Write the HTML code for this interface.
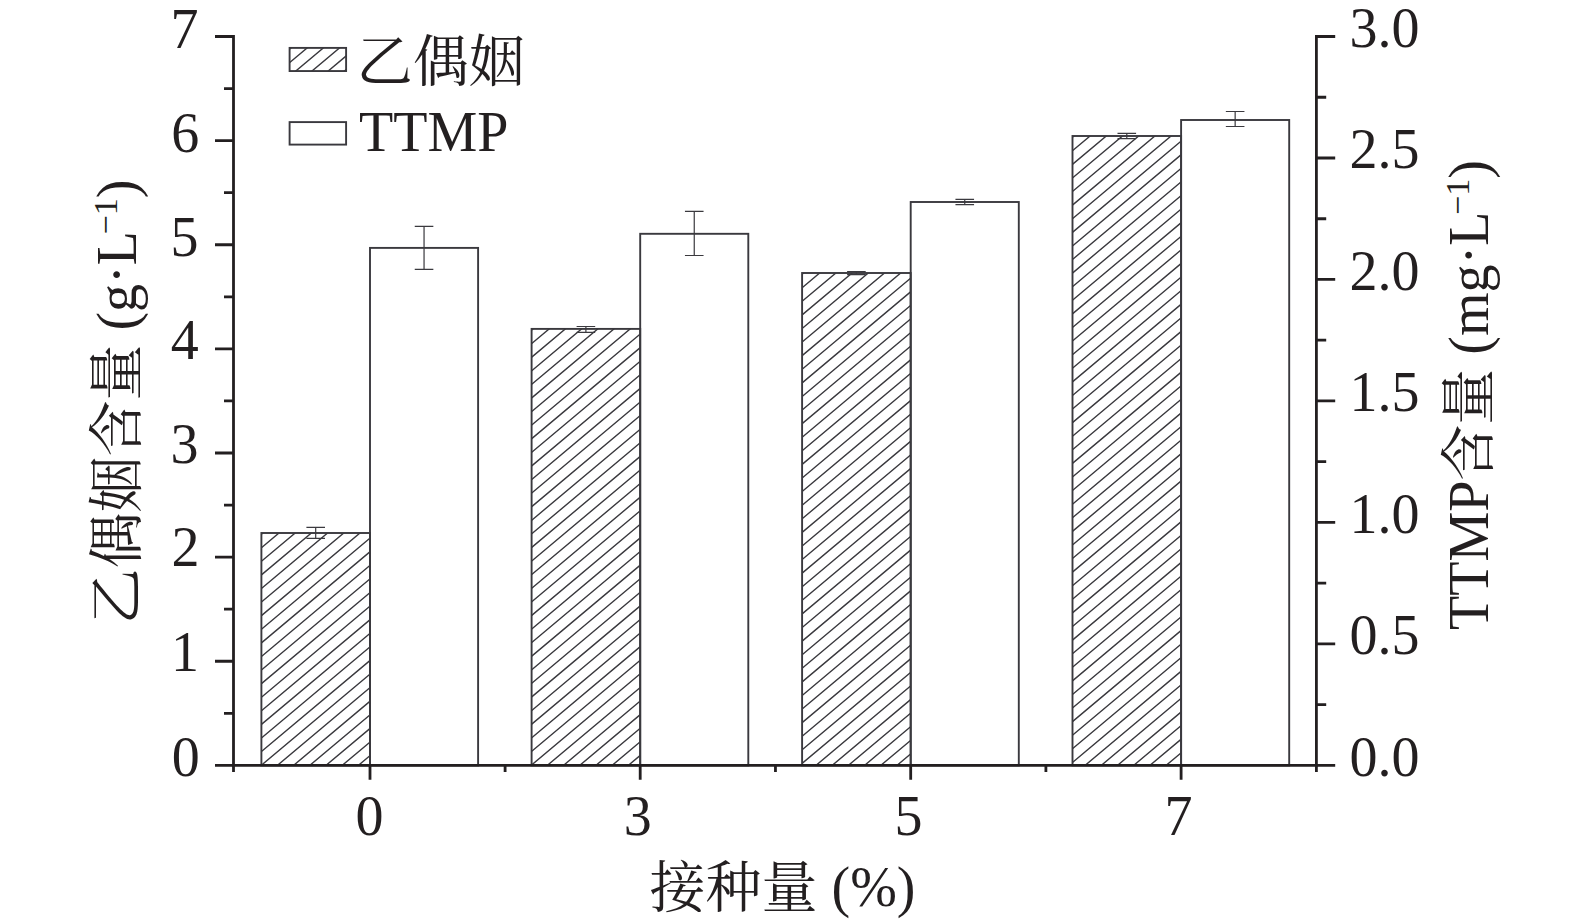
<!DOCTYPE html><html><head><meta charset="utf-8"><style>html,body{margin:0;padding:0;background:#fff;}svg{display:block;}text{font-family:"Liberation Serif","Noto Serif CJK SC",serif;fill:#231f20;}</style></head><body>
<svg width="1575" height="924" viewBox="0 0 1575 924">
<rect width="1575" height="924" fill="#fff"/>
<defs><clipPath id="c0"><rect x="261.40" y="533.00" width="108.60" height="232.40"/></clipPath><clipPath id="c1"><rect x="531.60" y="328.90" width="108.60" height="436.50"/></clipPath><clipPath id="c2"><rect x="802.10" y="273.00" width="108.60" height="492.40"/></clipPath><clipPath id="c3"><rect x="1072.50" y="136.00" width="108.60" height="629.40"/></clipPath><clipPath id="cl"><rect x="289.60" y="47.90" width="56.50" height="23.15"/></clipPath></defs>
<path clip-path="url(#c0)" d="M258.40,509.48L373.00,413.33M258.40,523.08L373.00,426.93M258.40,536.67L373.00,440.52M258.40,550.26L373.00,454.11M258.40,563.85L373.00,467.70M258.40,577.44L373.00,481.29M258.40,591.03L373.00,494.88M258.40,604.63L373.00,508.48M258.40,618.22L373.00,522.07M258.40,631.81L373.00,535.66M258.40,645.40L373.00,549.25M258.40,658.99L373.00,562.84M258.40,672.59L373.00,576.44M258.40,686.18L373.00,590.03M258.40,699.77L373.00,603.62M258.40,713.36L373.00,617.21M258.40,726.95L373.00,630.80M258.40,740.54L373.00,644.39M258.40,754.14L373.00,657.99M258.40,767.73L373.00,671.58M258.40,781.32L373.00,685.17M258.40,794.91L373.00,698.76M258.40,808.50L373.00,712.35M258.40,822.09L373.00,725.95M258.40,835.69L373.00,739.54M258.40,849.28L373.00,753.13M258.40,862.87L373.00,766.72" stroke="#3a393e" stroke-width="1.4" fill="none"/>
<rect x="261.40" y="533.00" width="108.60" height="232.40" fill="none" stroke="#3a393e" stroke-width="1.9"/>
<rect x="370.00" y="247.90" width="108.10" height="517.50" fill="none" stroke="#3a393e" stroke-width="1.9"/>
<path clip-path="url(#c1)" d="M528.60,305.38L643.20,209.23M528.60,318.98L643.20,222.83M528.60,332.57L643.20,236.42M528.60,346.16L643.20,250.01M528.60,359.75L643.20,263.60M528.60,373.34L643.20,277.19M528.60,386.93L643.20,290.78M528.60,400.53L643.20,304.38M528.60,414.12L643.20,317.97M528.60,427.71L643.20,331.56M528.60,441.30L643.20,345.15M528.60,454.89L643.20,358.74M528.60,468.49L643.20,372.34M528.60,482.08L643.20,385.93M528.60,495.67L643.20,399.52M528.60,509.26L643.20,413.11M528.60,522.85L643.20,426.70M528.60,536.44L643.20,440.29M528.60,550.04L643.20,453.89M528.60,563.63L643.20,467.48M528.60,577.22L643.20,481.07M528.60,590.81L643.20,494.66M528.60,604.40L643.20,508.25M528.60,617.99L643.20,521.85M528.60,631.59L643.20,535.44M528.60,645.18L643.20,549.03M528.60,658.77L643.20,562.62M528.60,672.36L643.20,576.21M528.60,685.95L643.20,589.80M528.60,699.55L643.20,603.40M528.60,713.14L643.20,616.99M528.60,726.73L643.20,630.58M528.60,740.32L643.20,644.17M528.60,753.91L643.20,657.76M528.60,767.50L643.20,671.36M528.60,781.10L643.20,684.95M528.60,794.69L643.20,698.54M528.60,808.28L643.20,712.13M528.60,821.87L643.20,725.72M528.60,835.46L643.20,739.31M528.60,849.06L643.20,752.91M528.60,862.65L643.20,766.50" stroke="#3a393e" stroke-width="1.4" fill="none"/>
<rect x="531.60" y="328.90" width="108.60" height="436.50" fill="none" stroke="#3a393e" stroke-width="1.9"/>
<rect x="640.20" y="233.80" width="108.10" height="531.60" fill="none" stroke="#3a393e" stroke-width="1.9"/>
<path clip-path="url(#c2)" d="M799.10,249.48L913.70,153.33M799.10,263.08L913.70,166.93M799.10,276.67L913.70,180.52M799.10,290.26L913.70,194.11M799.10,303.85L913.70,207.70M799.10,317.44L913.70,221.29M799.10,331.03L913.70,234.88M799.10,344.63L913.70,248.48M799.10,358.22L913.70,262.07M799.10,371.81L913.70,275.66M799.10,385.40L913.70,289.25M799.10,398.99L913.70,302.84M799.10,412.59L913.70,316.44M799.10,426.18L913.70,330.03M799.10,439.77L913.70,343.62M799.10,453.36L913.70,357.21M799.10,466.95L913.70,370.80M799.10,480.54L913.70,384.39M799.10,494.14L913.70,397.99M799.10,507.73L913.70,411.58M799.10,521.32L913.70,425.17M799.10,534.91L913.70,438.76M799.10,548.50L913.70,452.35M799.10,562.09L913.70,465.95M799.10,575.69L913.70,479.54M799.10,589.28L913.70,493.13M799.10,602.87L913.70,506.72M799.10,616.46L913.70,520.31M799.10,630.05L913.70,533.90M799.10,643.65L913.70,547.50M799.10,657.24L913.70,561.09M799.10,670.83L913.70,574.68M799.10,684.42L913.70,588.27M799.10,698.01L913.70,601.86M799.10,711.60L913.70,615.46M799.10,725.20L913.70,629.05M799.10,738.79L913.70,642.64M799.10,752.38L913.70,656.23M799.10,765.97L913.70,669.82M799.10,779.56L913.70,683.41M799.10,793.16L913.70,697.01M799.10,806.75L913.70,710.60M799.10,820.34L913.70,724.19M799.10,833.93L913.70,737.78M799.10,847.52L913.70,751.37M799.10,861.11L913.70,764.96" stroke="#3a393e" stroke-width="1.4" fill="none"/>
<rect x="802.10" y="273.00" width="108.60" height="492.40" fill="none" stroke="#3a393e" stroke-width="1.9"/>
<rect x="910.70" y="202.00" width="108.10" height="563.40" fill="none" stroke="#3a393e" stroke-width="1.9"/>
<path clip-path="url(#c3)" d="M1069.50,112.48L1184.10,16.33M1069.50,126.08L1184.10,29.93M1069.50,139.67L1184.10,43.52M1069.50,153.26L1184.10,57.11M1069.50,166.85L1184.10,70.70M1069.50,180.44L1184.10,84.29M1069.50,194.03L1184.10,97.88M1069.50,207.63L1184.10,111.48M1069.50,221.22L1184.10,125.07M1069.50,234.81L1184.10,138.66M1069.50,248.40L1184.10,152.25M1069.50,261.99L1184.10,165.84M1069.50,275.58L1184.10,179.44M1069.50,289.18L1184.10,193.03M1069.50,302.77L1184.10,206.62M1069.50,316.36L1184.10,220.21M1069.50,329.95L1184.10,233.80M1069.50,343.54L1184.10,247.39M1069.50,357.14L1184.10,260.99M1069.50,370.73L1184.10,274.58M1069.50,384.32L1184.10,288.17M1069.50,397.91L1184.10,301.76M1069.50,411.50L1184.10,315.35M1069.50,425.09L1184.10,328.95M1069.50,438.69L1184.10,342.54M1069.50,452.28L1184.10,356.13M1069.50,465.87L1184.10,369.72M1069.50,479.46L1184.10,383.31M1069.50,493.05L1184.10,396.90M1069.50,506.65L1184.10,410.50M1069.50,520.24L1184.10,424.09M1069.50,533.83L1184.10,437.68M1069.50,547.42L1184.10,451.27M1069.50,561.01L1184.10,464.86M1069.50,574.60L1184.10,478.46M1069.50,588.20L1184.10,492.05M1069.50,601.79L1184.10,505.64M1069.50,615.38L1184.10,519.23M1069.50,628.97L1184.10,532.82M1069.50,642.56L1184.10,546.41M1069.50,656.16L1184.10,560.01M1069.50,669.75L1184.10,573.60M1069.50,683.34L1184.10,587.19M1069.50,696.93L1184.10,600.78M1069.50,710.52L1184.10,614.37M1069.50,724.11L1184.10,627.96M1069.50,737.71L1184.10,641.56M1069.50,751.30L1184.10,655.15M1069.50,764.89L1184.10,668.74M1069.50,778.48L1184.10,682.33M1069.50,792.07L1184.10,695.92M1069.50,805.67L1184.10,709.52M1069.50,819.26L1184.10,723.11M1069.50,832.85L1184.10,736.70M1069.50,846.44L1184.10,750.29M1069.50,860.03L1184.10,763.88" stroke="#3a393e" stroke-width="1.4" fill="none"/>
<rect x="1072.50" y="136.00" width="108.60" height="629.40" fill="none" stroke="#3a393e" stroke-width="1.9"/>
<rect x="1181.10" y="120.00" width="108.10" height="645.40" fill="none" stroke="#3a393e" stroke-width="1.9"/>
<path d="M315.70,527.30V538.40M306.40,527.30H325.00M306.40,538.40H325.00" stroke="#3a393e" stroke-width="1.2" fill="none"/>
<path d="M424.05,226.40V269.40M414.75,226.40H433.35M414.75,269.40H433.35" stroke="#3a393e" stroke-width="1.2" fill="none"/>
<path d="M585.90,326.50V332.40M576.60,326.50H595.20M576.60,332.40H595.20" stroke="#3a393e" stroke-width="1.2" fill="none"/>
<path d="M694.25,211.30V255.50M684.95,211.30H703.55M684.95,255.50H703.55" stroke="#3a393e" stroke-width="1.2" fill="none"/>
<path d="M856.40,271.60V274.60M847.10,271.60H865.70M847.10,274.60H865.70" stroke="#3a393e" stroke-width="1.2" fill="none"/>
<path d="M964.75,199.40V204.60M955.45,199.40H974.05M955.45,204.60H974.05" stroke="#3a393e" stroke-width="1.2" fill="none"/>
<path d="M1126.80,133.40V138.60M1117.50,133.40H1136.10M1117.50,138.60H1136.10" stroke="#3a393e" stroke-width="1.2" fill="none"/>
<path d="M1235.15,111.50V126.50M1225.85,111.50H1244.45M1225.85,126.50H1244.45" stroke="#3a393e" stroke-width="1.2" fill="none"/>
<path clip-path="url(#cl)" d="M286.60,24.38L349.10,-28.05M286.60,37.98L349.10,-14.46M286.60,51.57L349.10,-0.87M286.60,65.16L349.10,12.72M286.60,78.75L349.10,26.31M286.60,92.34L349.10,39.90M286.60,105.93L349.10,53.50M286.60,119.53L349.10,67.09M286.60,133.12L349.10,80.68" stroke="#3a393e" stroke-width="1.4" fill="none"/>
<rect x="289.6" y="47.9" width="56.50" height="23.15" fill="none" stroke="#3a393e" stroke-width="1.9"/>
<rect x="289.6" y="122.1" width="56.50" height="22.5" fill="none" stroke="#3a393e" stroke-width="1.9"/>
<path d="M233.5,35.1V765.4M1316.4,35.1V765.4M232.1,765.4H1317.8000000000002" stroke="#231f20" stroke-width="2.8" fill="none"/>
<path d="M215.0,765.40H233.5M215.0,661.27H233.5M215.0,557.14H233.5M215.0,453.01H233.5M215.0,348.89H233.5M215.0,244.76H233.5M215.0,140.63H233.5M215.0,36.50H233.5M224.0,713.34H233.5M224.0,609.21H233.5M224.0,505.08H233.5M224.0,400.95H233.5M224.0,296.82H233.5M224.0,192.69H233.5M224.0,88.56H233.5M1316.4,765.40H1335.2M1316.4,643.92H1335.2M1316.4,522.43H1335.2M1316.4,400.95H1335.2M1316.4,279.47H1335.2M1316.4,157.98H1335.2M1316.4,36.50H1335.2M1316.4,704.66H1326.2M1316.4,583.17H1326.2M1316.4,461.69H1326.2M1316.4,340.21H1326.2M1316.4,218.73H1326.2M1316.4,97.24H1326.2M370.00,765.4V779.6999999999999M640.20,765.4V779.6999999999999M910.70,765.4V779.6999999999999M1181.10,765.4V779.6999999999999M233.50,765.4V771.9M505.10,765.4V771.9M775.45,765.4V771.9M1045.90,765.4V771.9M1316.40,765.4V771.9" stroke="#231f20" stroke-width="2.8" fill="none"/>
<text x="199.80" y="775.70" font-size="56" text-anchor="end">0</text>
<text x="198.90" y="670.87" font-size="56" text-anchor="end">1</text>
<text x="199.40" y="566.44" font-size="56" text-anchor="end">2</text>
<text x="198.60" y="462.91" font-size="56" text-anchor="end">3</text>
<text x="198.70" y="359.09" font-size="56" text-anchor="end">4</text>
<text x="198.60" y="255.76" font-size="56" text-anchor="end">5</text>
<text x="199.30" y="151.73" font-size="56" text-anchor="end">6</text>
<text x="198.50" y="48.00" font-size="56" text-anchor="end">7</text>
<text x="1349.6" y="775.90" font-size="56">0.0</text>
<text x="1349.6" y="654.42" font-size="56">0.5</text>
<text x="1349.6" y="532.93" font-size="56">1.0</text>
<text x="1349.6" y="411.45" font-size="56">1.5</text>
<text x="1349.6" y="289.97" font-size="56">2.0</text>
<text x="1349.6" y="168.48" font-size="56">2.5</text>
<text x="1349.6" y="47.00" font-size="56">3.0</text>
<text x="369.40" y="835.3" font-size="56" text-anchor="middle">0</text>
<text x="637.80" y="835.3" font-size="56" text-anchor="middle">3</text>
<text x="908.40" y="835.3" font-size="56" text-anchor="middle">5</text>
<text x="1178.40" y="835.3" font-size="56" text-anchor="middle">7</text>
<text x="356.8" y="80.5" font-size="56">乙偶姻</text>
<text x="359" y="151.2" font-size="56">TTMP</text>
<text transform="translate(136.1,624.6) rotate(-90)" font-size="56">乙偶姻含量 (g·L<tspan font-size="34" dx="-3.4" dy="-18.8">−1</tspan><tspan dy="18.8">)</tspan></text>
<text transform="translate(1487.6,630) rotate(-90)" font-size="56">TTMP含量 (mg·L<tspan font-size="34" dx="-3.4" dy="-18.8">−1</tspan><tspan dy="18.8">)</tspan></text>
<text x="649.5" y="907" font-size="56">接种量 <tspan dy="-1">(%)</tspan></text>
</svg></body></html>
